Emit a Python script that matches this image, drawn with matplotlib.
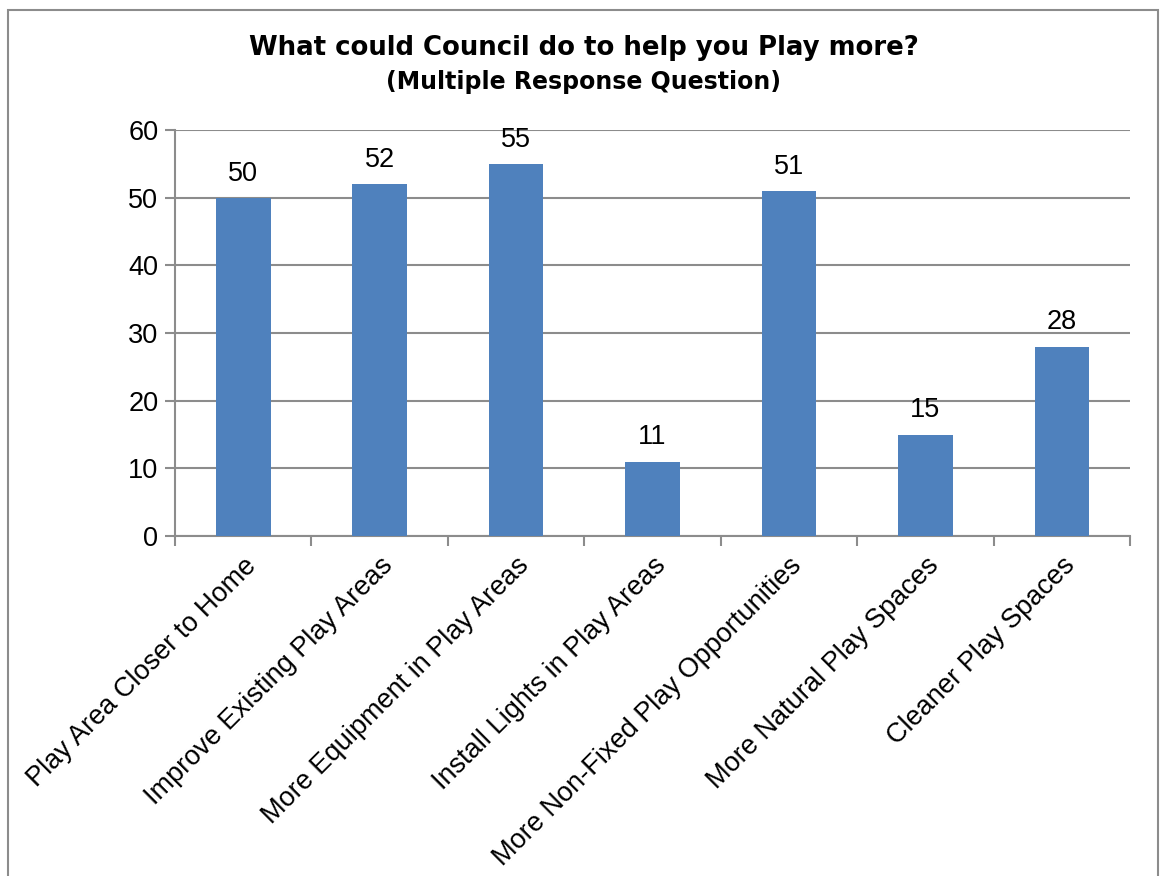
import matplotlib
matplotlib.use("Agg")
import matplotlib.pyplot as plt
from matplotlib.patches import Rectangle

categories = ["Play Area Closer to Home", "Improve Existing Play Areas",
              "More Equipment in Play Areas", "Install Lights in Play Areas",
              "More Non-Fixed Play Opportunities", "More Natural Play Spaces",
              "Cleaner Play Spaces"]
values = [50, 52, 55, 11, 51, 15, 28]
yticks = [0, 10, 20, 30, 40, 50, 60]

W, H = 1160, 876
fig = plt.figure(figsize=(W / 100, H / 100), dpi=100)
fig.patch.set_facecolor("white")

# outer chart border
fig.add_artist(Rectangle((8 / W, -0.01), (1158 - 8) / W, (H - 10) / H + 0.01,
                         transform=fig.transFigure, fill=False,
                         edgecolor="#8c8c8c", linewidth=1.5))

ax = fig.add_axes([175 / W, (H - 536) / H, (1130 - 175) / W, (536 - 130) / H])
x = list(range(len(categories)))
bars = ax.bar(x, values, width=0.4, color="#4F81BD", zorder=3)
ax.set_xlim(-0.5, len(categories) - 0.5)
ax.set_ylim(0, 60)
ax.set_yticks(yticks)
ax.set_yticklabels([str(t) for t in yticks], fontsize=19.5, family="Liberation Sans")
ax.yaxis.grid(True, color="#8c8c8c", linewidth=1.5, zorder=0)
ax.set_axisbelow(True)

for s in ["top", "right"]:
    ax.spines[s].set_visible(False)
for s in ["left", "bottom"]:
    ax.spines[s].set_color("#8c8c8c")
    ax.spines[s].set_linewidth(1.5)

ax.tick_params(axis="y", length=7, width=1.5, color="#8c8c8c", pad=5)
# x ticks at category boundaries
ax.set_xticks([i - 0.5 for i in range(len(categories) + 1)])
ax.set_xticklabels([])
ax.tick_params(axis="x", length=7, width=1.5, color="#8c8c8c")

for i, (c, v) in enumerate(zip(categories, values)):
    ax.annotate(str(v), (i, v), xytext=(0, 8), textcoords="offset points",
                ha="center", va="bottom", fontsize=19.5, family="Liberation Sans")
    ax.annotate(c, (i, 0), xytext=(0, -12), textcoords="offset points",
                ha="right", va="top", rotation=45, rotation_mode="anchor",
                fontsize=19.5, family="Liberation Sans")

fig.text(584 / W, 1 - 48 / H, "What could Council do to help you Play more?",
         ha="center", va="center", fontsize=18.7, fontweight="bold", family="DejaVu Sans")
fig.text(584 / W, 1 - 82 / H, "(Multiple Response Question)",
         ha="center", va="center", fontsize=17, fontweight="bold", family="DejaVu Sans")

fig.savefig("out.png", dpi=100, facecolor="white")
